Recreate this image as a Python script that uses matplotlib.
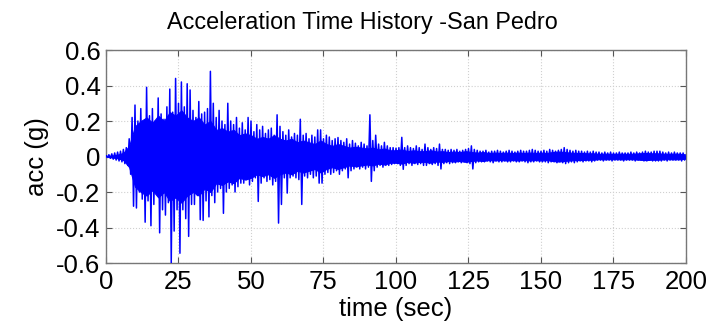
import numpy as np
import matplotlib
matplotlib.use("Agg")
import matplotlib.pyplot as plt

plt.rcParams['font.family'] = ['Liberation Sans', 'DejaVu Sans']

# Peak accelerations (g) read per second, t = 0..199 s
pos_peaks = [
    0.005, 0.01, 0.015, 0.02, 0.025, 0.03, 0.04, 0.05, 0.10, 0.22,
    0.29, 0.20, 0.27, 0.18, 0.39, 0.23, 0.27, 0.20, 0.33, 0.24,
    0.21, 0.28, 0.38, 0.25, 0.44, 0.30, 0.42, 0.28, 0.41, 0.375,
    0.26, 0.22, 0.31, 0.24, 0.25, 0.27, 0.48, 0.30, 0.22, 0.26,
    0.20, 0.18, 0.30, 0.20, 0.18, 0.22, 0.16, 0.19, 0.15, 0.22,
    0.20, 0.14, 0.18, 0.15, 0.17, 0.13, 0.15, 0.16, 0.12, 0.235,
    0.17, 0.14, 0.12, 0.15, 0.11, 0.13, 0.12, 0.21, 0.12, 0.13,
    0.10, 0.12, 0.11, 0.15, 0.15, 0.10, 0.12, 0.11, 0.09, 0.10,
    0.107, 0.09, 0.08, 0.10, 0.07, 0.09, 0.075, 0.06, 0.08, 0.07,
    0.06, 0.235, 0.09, 0.12, 0.07, 0.06, 0.08, 0.06, 0.05, 0.05,
    0.047, 0.05, 0.108, 0.05, 0.06, 0.05, 0.045, 0.06, 0.05, 0.04,
    0.07, 0.05, 0.04, 0.05, 0.045, 0.07, 0.04, 0.04, 0.035, 0.04,
    0.035, 0.04, 0.03, 0.035, 0.04, 0.045, 0.06, 0.04, 0.035, 0.03,
    0.03, 0.035, 0.025, 0.03, 0.03, 0.035, 0.03, 0.025, 0.03, 0.035,
    0.03, 0.025, 0.03, 0.035, 0.03, 0.03, 0.035, 0.04, 0.035, 0.03,
    0.03, 0.035, 0.03, 0.04, 0.035, 0.03, 0.035, 0.04, 0.05, 0.04,
    0.035, 0.03, 0.035, 0.03, 0.03, 0.025, 0.03, 0.025, 0.03, 0.025,
    0.025, 0.02, 0.025, 0.02, 0.025, 0.02, 0.02, 0.025, 0.02, 0.02,
    0.02, 0.025, 0.02, 0.025, 0.02, 0.025, 0.03, 0.025, 0.025, 0.03,
    0.03, 0.03, 0.025, 0.02, 0.025, 0.02, 0.025, 0.02, 0.02, 0.02,
]
neg_peaks = [
    -0.005, -0.01, -0.015, -0.02, -0.025, -0.03, -0.04, -0.05, -0.10, -0.28,
    -0.29, -0.20, -0.24, -0.37, -0.25, -0.39, -0.27, -0.20, -0.43, -0.30,
    -0.33, -0.26, -0.60, -0.42, -0.30, -0.545, -0.30, -0.35, -0.45, -0.27,
    -0.27, -0.22, -0.356, -0.36, -0.25, -0.34, -0.22, -0.26, -0.20, -0.18,
    -0.32, -0.20, -0.18, -0.16, -0.20, -0.17, -0.15, -0.15, -0.13, -0.16,
    -0.14, -0.12, -0.253, -0.15, -0.12, -0.14, -0.13, -0.16, -0.14, -0.375,
    -0.27, -0.12, -0.206, -0.12, -0.11, -0.12, -0.13, -0.27, -0.11, -0.12,
    -0.10, -0.12, -0.11, -0.15, -0.15, -0.10, -0.09, -0.10, -0.09, -0.08,
    -0.10, -0.08, -0.07, -0.12, -0.08, -0.07, -0.06, -0.07, -0.06, -0.07,
    -0.06, -0.14, -0.08, -0.06, -0.05, -0.06, -0.05, -0.05, -0.045, -0.04,
    -0.04, -0.05, -0.072, -0.05, -0.04, -0.05, -0.04, -0.045, -0.04, -0.05,
    -0.05, -0.04, -0.045, -0.04, -0.05, -0.07, -0.04, -0.035, -0.04, -0.035,
    -0.035, -0.03, -0.035, -0.03, -0.035, -0.04, -0.07, -0.035, -0.03, -0.03,
    -0.03, -0.025, -0.03, -0.035, -0.025, -0.03, -0.03, -0.025, -0.03, -0.03,
    -0.025, -0.03, -0.03, -0.025, -0.03, -0.035, -0.03, -0.03, -0.025, -0.03,
    -0.03, -0.03, -0.035, -0.03, -0.03, -0.035, -0.03, -0.035, -0.04, -0.035,
    -0.03, -0.035, -0.03, -0.025, -0.03, -0.025, -0.025, -0.03, -0.025, -0.02,
    -0.02, -0.025, -0.02, -0.02, -0.025, -0.02, -0.02, -0.02, -0.025, -0.02,
    -0.02, -0.02, -0.025, -0.02, -0.02, -0.025, -0.025, -0.02, -0.025, -0.025,
    -0.025, -0.025, -0.02, -0.025, -0.02, -0.02, -0.02, -0.02, -0.025, -0.02,
]
# Dense core band amplitude (g) read every 2 s, t = 0..200 s
core_times = list(range(0, 201, 2))
core_amp = [
    0.0, 0.005, 0.01, 0.02, 0.06, 0.17, 0.20, 0.22, 0.19, 0.23,
    0.20, 0.25, 0.23, 0.26, 0.22, 0.20, 0.22, 0.18, 0.20, 0.15,
    0.16, 0.14, 0.15, 0.12, 0.13, 0.12, 0.10, 0.11, 0.10, 0.12,
    0.10, 0.09, 0.10, 0.08, 0.09, 0.08, 0.07, 0.09, 0.07, 0.06,
    0.07, 0.06, 0.05, 0.055, 0.05, 0.045, 0.05, 0.04, 0.045, 0.035,
    0.035, 0.04, 0.03, 0.035, 0.03, 0.03, 0.035, 0.028, 0.03, 0.025,
    0.028, 0.025, 0.03, 0.025, 0.022, 0.025, 0.02, 0.022, 0.02, 0.022,
    0.02, 0.022, 0.02, 0.022, 0.02, 0.022, 0.02, 0.025, 0.028, 0.025,
    0.022, 0.02, 0.02, 0.018, 0.018, 0.015, 0.016, 0.015, 0.015, 0.016,
    0.015, 0.016, 0.018, 0.02, 0.018, 0.018, 0.016, 0.015, 0.016, 0.015,
    0.012,
]
x_ticks = [0, 25, 50, 75, 100, 125, 150, 175, 200]
y_ticks = [-0.6, -0.4, -0.2, 0, 0.2, 0.4, 0.6]
y_tick_labels = ['-0.6', '-0.4', '-0.2', '0', '0.2', '0.4', '0.6']

blue = (0, 0, 1)

# Zig-zag: positive peak at t, negative peak at t+0.5
n = len(pos_peaks)
t_sec = np.arange(n, dtype=float)
t = np.empty(2 * n)
a = np.empty(2 * n)
t[0::2] = t_sec
t[1::2] = t_sec + 0.5
a[0::2] = pos_peaks
a[1::2] = neg_peaks
t = np.concatenate([[0.0], t, [200.0]])
a = np.concatenate([[0.0], a, [0.0]])

core_amp_arr = np.array(core_amp)

fig = plt.figure(figsize=(7.25, 3.27), dpi=100)
ax = fig.add_axes([0.1462, 0.1957, 0.8, 0.6513])
ax.fill_between(core_times, -core_amp_arr, core_amp_arr, color=blue,
                linewidth=0.8, edgecolor=blue, zorder=2)
ax.plot(t, a, color=blue, lw=1.1, zorder=3)
ax.set_xlim(0, 200)
ax.set_ylim(-0.6, 0.6)
ax.set_xticks(x_ticks)
ax.set_yticks(y_ticks)
ax.set_yticklabels(y_tick_labels)
ax.grid(True, color='#d0d0d0', linestyle=':', linewidth=0.8, zorder=0)
ax.set_axisbelow(True)
ax.tick_params(direction='in', top=True, right=True, labelsize=18.5,
               length=4, color='#555555')
ax.tick_params(axis='x', pad=5)
ax.tick_params(axis='y', pad=4)
for s in ax.spines.values():
    s.set_color('#777777')
    s.set_linewidth(1.0)
ax.set_xlabel('time (sec)', fontsize=18.5, labelpad=2)
ax.set_ylabel('acc (g)', fontsize=18.5, labelpad=5)
fig.text(0.5, 1 - 22 / 327, 'Acceleration Time History -San Pedro',
         fontsize=16.8, ha='center', va='center')
fig.savefig('out.png', dpi=100)
